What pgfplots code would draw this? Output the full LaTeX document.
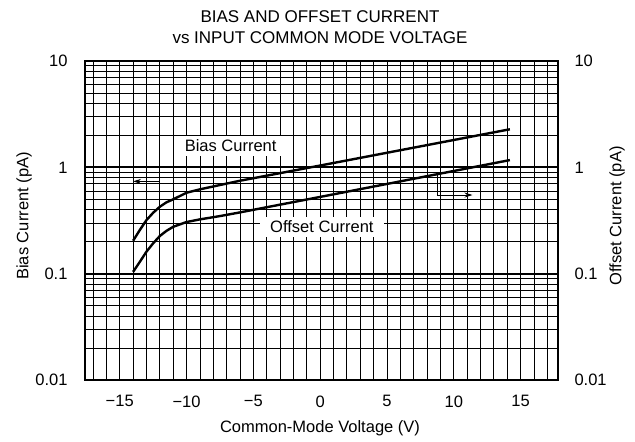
\documentclass[border=0pt]{standalone}
\usepackage{fontspec}
\setmainfont{Liberation Sans}
\usepackage{pgfplots}
\pgfplotsset{compat=1.18}
\usetikzlibrary{arrows.meta}
\begin{document}
\begin{tikzpicture}
\useasboundingbox (-85pt,-62pt) rectangle (550pt,380pt);
\begin{axis}[
  scale only axis, width=473pt, height=319pt,
  at={(0,0)}, anchor=south west,
  xmin=-17.6, xmax=17.8,
  ymode=log, ymin=0.01, ymax=10,
  xtick={-15,-10,...,15},
  xticklabels={−15,−10,−5,0,5,10,15},
  minor xtick={-17,-16,...,17},
  ytick={0.01,0.1,1,10},
  yticklabels={0.01,0.1,1,10},
  major tick length=0pt, minor tick length=0pt,
  grid=both,
  minor x grid style={black, line width=0.8pt},
  major x grid style={black, line width=0.8pt},
  minor y grid style={black, line width=0.8pt},
  major y grid style={black, line width=1.8pt},
  axis line style={black, line width=2.4pt},
  xticklabel style={font=\fontsize{16.5}{19}\selectfont, yshift=-12pt},
  yticklabel style={font=\fontsize{16.5}{19}\selectfont, xshift=-14pt},
  /pgf/number format/assume math mode=true,
  axis on top=false,
  clip=false,
]
\addplot[black, line width=2.4pt] coordinates {
 (-14,0.204) (-13.5,0.257) (-13,0.319) (-12.5,0.374) (-12,0.426) (-11.5,0.469)
 (-11,0.50) (-10,0.577) (-9,0.621) (-7.5,0.682) (-6,0.748) (0,1.04) (14.2,2.28)};
\addplot[black, line width=2.4pt] coordinates {
 (-14,0.104) (-13.5,0.129) (-13,0.161) (-12.5,0.193) (-12,0.226) (-11.5,0.253)
 (-11,0.276) (-10,0.306) (-9,0.324) (-7.5,0.348) (-6,0.377) (0,0.527) (14.2,1.17)};
\draw[black, line width=0.9pt, -{Stealth[length=8pt,width=5pt]}] (axis cs:-12,0.43) -- (axis cs:-12,0.738) -- (axis cs:-14,0.738);
\draw[black, line width=0.9pt, -{Stealth[length=8pt,width=5pt]}] (axis cs:8.75,0.87) -- (axis cs:8.75,0.549) -- (axis cs:11.4,0.549);
\node[fill=white, inner xsep=10pt, inner ysep=4pt, font=\fontsize{16.5}{19}\selectfont] at (axis cs:-6.7,1.585) {Bias Current};
\node[fill=white, inner xsep=10pt, inner ysep=4pt, font=\fontsize{16.5}{19}\selectfont] at (axis cs:0.13,0.275) {Offset Current};
\end{axis}
\begin{axis}[
  scale only axis, width=473pt, height=319pt,
  at={(0,0)}, anchor=south west,
  xmin=-17.6, xmax=17.8,
  ymode=log, ymin=0.01, ymax=10,
  axis x line=none, axis y line*=right,
  ytick={0.01,0.1,1,10},
  yticklabels={0.01,0.1,1,10},
  major tick length=0pt, minor tick length=0pt,
  axis line style={black, line width=2.4pt},
  yticklabel style={font=\fontsize{16.5}{19}\selectfont, xshift=13pt},
]
\end{axis}
\node[font=\fontsize{17}{20}\selectfont] at (235pt,363pt) {BIAS AND OFFSET CURRENT};
\node[font=\fontsize{17}{20}\selectfont] at (235pt,342pt) {vs INPUT COMMON MODE VOLTAGE};
\node[font=\fontsize{16.5}{19}\selectfont] at (235pt,-48pt) {Common-Mode Voltage (V)};
\node[font=\fontsize{16.5}{19}\selectfont, rotate=90] at (-61pt,164pt) {Bias Current (pA)};
\node[font=\fontsize{16.5}{19}\selectfont, rotate=90] at (532pt,164pt) {Offset Current (pA)};
\end{tikzpicture}
\end{document}
